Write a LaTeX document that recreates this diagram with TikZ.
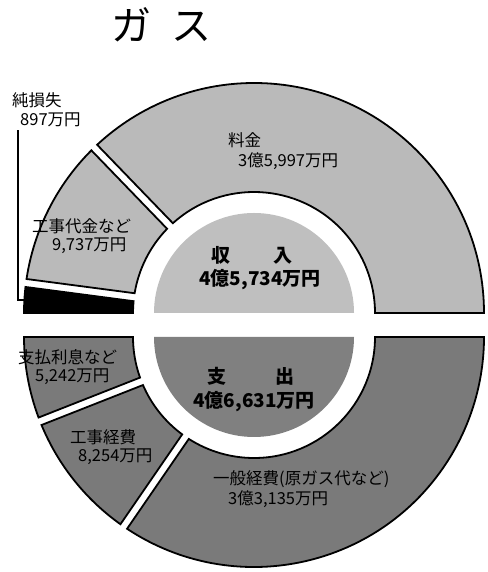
\documentclass[tikz,border=0pt]{standalone}
\usepackage{fontspec}
\setmainfont{Noto Sans CJK JP}
\begin{document}
\begin{tikzpicture}[x=1pt,y=1pt]
  \tikzstyle{every node}=[inner sep=0pt,anchor=west,font=\fontsize{16.5}{16.5}\selectfont]
  \tikzstyle{inpart}=[draw=black,line width=1.8pt,fill=black!27]
  \tikzstyle{outpart}=[draw=black,line width=1.8pt,fill=black!52]
  \tikzstyle{losspart}=[draw=black,line width=1.8pt,fill=black]
  \tikzstyle{total}=[anchor=center,font=\fontsize{19}{19}\selectfont\bfseries]
  \useasboundingbox (0,0) rectangle (487,572);
  \coordinate (c1) at (254,259);
  \coordinate (c2) at (254,235);
  \node (title) at (161,547) [anchor=center,font=\fontsize{40}{40}\selectfont] {ガ\hspace{20pt}ス};
  \draw [inpart,shift={(c1)}] (0:230) arc [start angle=0,end angle=133,radius=230]
    -- (132.1:121) arc [start angle=132.1,end angle=0,radius=121] -- cycle;
  \draw [inpart,shift={(c1)}] (135:230) arc [start angle=135,end angle=171.5,radius=230]
    -- (170.6:121) arc [start angle=170.6,end angle=135.9,radius=121] -- cycle;
  \draw [losspart,shift={(c1)}] (173.5:230) arc [start angle=173.5,end angle=180,radius=230]
    -- (180:121) arc [start angle=180,end angle=174.4,radius=121] -- cycle;
  \fill [black!25,shift={(c1)}] (0:100) arc [start angle=0,end angle=180,radius=100] -- cycle;
  \draw [outpart,shift={(c2)}] (180:230) arc [start angle=180,end angle=200.5,radius=230]
    -- (199.6:121) arc [start angle=199.6,end angle=180,radius=121] -- cycle;
  \draw [outpart,shift={(c2)}] (202.5:230) arc [start angle=202.5,end angle=234.5,radius=230]
    -- (233.6:121) arc [start angle=233.6,end angle=203.4,radius=121] -- cycle;
  \draw [outpart,shift={(c2)}] (236.5:230) arc [start angle=236.5,end angle=360,radius=230]
    -- (360:121) arc [start angle=360,end angle=237.4,radius=121] -- cycle;
  \fill [black!50,shift={(c2)}] (180:100) arc [start angle=180,end angle=360,radius=100] -- cycle;
  \node (r1a) at (228,432) {料金};
  \node (r1b) at (238,411) {3億5,997万円};
  \node (r2a) at (32,346) {工事代金など};
  \node (r2b) at (52,326) {9,737万円};
  \node (r3a) at (12,472) {純損失};
  \node (r3b) at (20,452) {897万円};
  \node (e1a) at (18,215) {支払利息など};
  \node (e1b) at (35,195) {5,242万円};
  \node (e2a) at (70,135) {工事経費};
  \node (e2b) at (78,115) {8,254万円};
  \node (e3a) at (213,93) {一般経費(原ガス代など)};
  \node (e3b) at (228,73) {3億3,135万円};
  \node (in) at (252,317) [total] {収\hspace{44pt}入};
  \node (inv) at (260,292) [total] {4億5,734万円};
  \node (out) at (251,196) [total] {支\hspace{49pt}出};
  \node (outv) at (254,170) [total] {4億6,631万円};
  \coordinate (lossend) at (26,272);
  \draw [line width=1.2pt] ([xshift=-2pt,yshift=-3pt]r3b.south west) |- (lossend);
\end{tikzpicture}
\end{document}
